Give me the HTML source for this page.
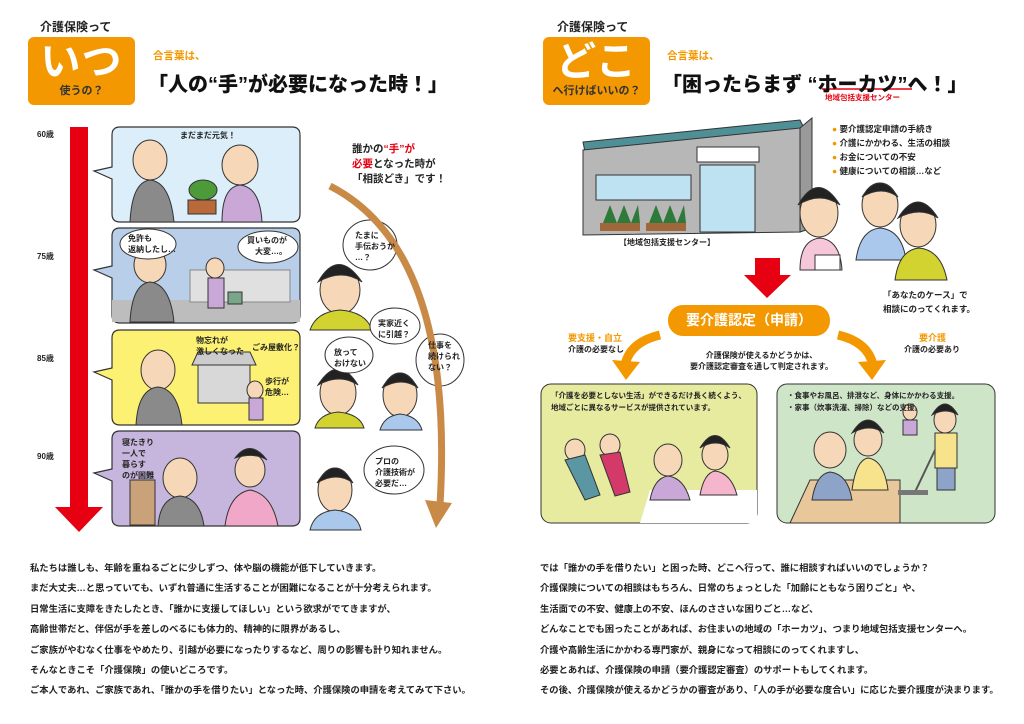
<!DOCTYPE html>
<html><head><meta charset="utf-8">
<style>
*{margin:0;padding:0;box-sizing:border-box}
body{width:1024px;height:724px;background:#fff;position:relative;overflow:hidden;font-family:"Liberation Sans","Noto Sans CJK JP",sans-serif;font-weight:bold;color:#222}
.a{position:absolute;white-space:nowrap}
.box{position:absolute;background:#f39800;border-radius:6px;color:#fff;text-align:center}
.t{font-size:9.3px;line-height:20.4px}
.s{font-size:8px;line-height:11px}
svg{position:absolute;left:0;top:0}
</style></head><body>
<svg width="1024" height="724" viewBox="0 0 1024 724">
<rect x="70" y="127" width="18" height="382" fill="#e60012"/>
<polygon points="55,507 103,507 79,532" fill="#e60012"/>
<g stroke="#333" stroke-width="1.2">
<path d="M112,135 q0,-8 8,-8 h172 q8,0 8,8 v79 q0,8 -8,8 h-172 q-8,0 -8,-8 v-35 l-18,-8 l18,-4z" fill="#dceefa"/>
<path d="M112,236 q0,-8 8,-8 h172 q8,0 8,8 v79 q0,8 -8,8 h-172 q-8,0 -8,-8 v-37 l-18,-8 l18,-4z" fill="#b9cfe9"/>
<path d="M112,338 q0,-8 8,-8 h172 q8,0 8,8 v79 q0,8 -8,8 h-172 q-8,0 -8,-8 v-37 l-18,-8 l18,-4z" fill="#fdf173"/>
<path d="M112,439 q0,-8 8,-8 h172 q8,0 8,8 v79 q0,8 -8,8 h-172 q-8,0 -8,-8 v-37 l-18,-8 l18,-4z" fill="#c6b5dc"/>
</g>
<rect x="112" y="300" width="188" height="22" fill="#bdbdbd"/>
<rect x="190" y="270" width="100" height="32" fill="#e0e0e0" stroke="#888"/>
<g stroke="#333" stroke-width="1">
<ellipse cx="150" cy="160" rx="17" ry="20" fill="#f6d7b8"/><path d="M130,222 q2,-40 20,-42 q20,2 24,42z" fill="#8a8a8a"/>
<ellipse cx="240" cy="165" rx="18" ry="20" fill="#f6d7b8"/><path d="M222,222 q0,-35 18,-37 q20,2 22,37z" fill="#c9a8d8"/>
<rect x="188" y="200" width="28" height="14" fill="#b96a3a"/><ellipse cx="203" cy="190" rx="14" ry="10" fill="#4c9a3a"/>
<ellipse cx="150" cy="265" rx="16" ry="18" fill="#f6d7b8"/><path d="M130,322 q2,-38 20,-40 q20,2 24,40z" fill="#8a8a8a"/>
<ellipse cx="215" cy="268" rx="9" ry="10" fill="#f6d7b8"/><rect x="208" y="278" width="16" height="30" fill="#c9a8d8"/><rect x="228" y="292" width="14" height="12" fill="#7aa58a"/>
<ellipse cx="158" cy="370" rx="17" ry="20" fill="#f6d7b8"/><path d="M136,425 q2,-36 22,-38 q20,2 24,38z" fill="#8a8a8a"/>
<rect x="198" y="363" width="52" height="40" fill="#d8d8d8"/><polygon points="192,365 256,365 250,352 198,352" fill="#ccc"/>
<ellipse cx="255" cy="390" rx="8" ry="9" fill="#f6d7b8"/><rect x="249" y="398" width="14" height="22" fill="#c9a8d8"/>
<rect x="130" y="480" width="25" height="45" fill="#caa27a"/>
<ellipse cx="180" cy="478" rx="17" ry="20" fill="#f6d7b8"/><path d="M158,526 q2,-28 22,-30 q20,2 24,30z" fill="#8a8a8a"/>
<ellipse cx="250" cy="470" rx="15" ry="17" fill="#f6d7b8"/><path d="M235,458 q15,-20 32,2 q-12,-8 -32,-2z" fill="#222"/><path d="M225,526 q4,-32 25,-36 q22,4 28,36z" fill="#f0a7c8"/>
<ellipse cx="340" cy="290" rx="20" ry="24" fill="#f6d7b8"/><path d="M318,282 q20,-35 44,0 q-20,-14 -44,0z" fill="#222"/><path d="M310,330 q6,-18 30,-20 q26,2 32,20z" fill="#d2d230"/>
<ellipse cx="338" cy="393" rx="18" ry="22" fill="#f6d7b8"/><path d="M318,385 q20,-32 40,0 q-18,-12 -40,0z" fill="#222"/><path d="M315,428 q4,-14 23,-16 q22,2 26,16z" fill="#d2d230"/>
<ellipse cx="400" cy="395" rx="17" ry="22" fill="#f6d7b8"/><path d="M382,388 q18,-30 36,0 q-16,-12 -36,0z" fill="#222"/><path d="M380,430 q4,-14 20,-16 q18,2 22,16z" fill="#a9c8ec"/>
<ellipse cx="335" cy="490" rx="17" ry="22" fill="#f6d7b8"/><path d="M317,483 q18,-30 36,0 q-16,-12 -36,0z" fill="#222"/><path d="M310,530 q4,-18 25,-20 q22,2 26,20z" fill="#a9c8ec"/>
</g>
<g fill="#fff" stroke="#333" stroke-width="1">
<ellipse cx="370" cy="245" rx="27" ry="25"/><ellipse cx="395" cy="326" rx="25" ry="18"/><ellipse cx="349" cy="355" rx="24" ry="18"/><ellipse cx="440" cy="360" rx="24" ry="26"/><ellipse cx="394" cy="470" rx="30" ry="24"/>
<ellipse cx="148" cy="244" rx="28" ry="15"/><ellipse cx="268" cy="247" rx="30" ry="16"/>
</g>
<path d="M330,186 Q455,250 440,505" fill="none" stroke="#c98a48" stroke-width="7"/>
<polygon points="425,500 452,503 436,528" fill="#c98a48"/>
<polygon points="583,142 800,120 805,130 585,152" fill="#4f8f96" stroke="#333"/>
<polygon points="583,150 800,128 800,232 583,235" fill="#b7b7b7" stroke="#333"/>
<polygon points="800,128 812,118 812,228 800,232" fill="#9a9a9a" stroke="#333"/>
<rect x="596" y="175" width="95" height="25" fill="#bfe2f2" stroke="#333"/>
<rect x="700" y="165" width="55" height="67" fill="#bfe2f2" stroke="#333"/>
<rect x="697" y="147" width="62" height="15" fill="#fff" stroke="#333"/>
<rect x="600" y="223" width="40" height="8" fill="#a0683a"/><polygon points="603,223 610,205 617,223 624,205 631,223 638,205 640,223" fill="#2f7a3a"/>
<rect x="646" y="223" width="40" height="8" fill="#a0683a"/><polygon points="649,223 656,205 663,223 670,205 677,223 684,205 686,223" fill="#2f7a3a"/>
<g stroke="#333" stroke-width="1">
<ellipse cx="819" cy="213" rx="19" ry="24" fill="#f6d7b8"/><path d="M798,205 q20,-35 42,0 q-20,-14 -42,0z" fill="#222"/><path d="M800,270 q0,-30 20,-32 q20,2 22,32z" fill="#f5c7d9"/>
<ellipse cx="880" cy="205" rx="18" ry="22" fill="#f6d7b8"/><path d="M862,197 q18,-28 36,0 q-16,-12 -36,0z" fill="#222"/><path d="M856,260 q4,-30 24,-32 q22,2 26,32z" fill="#a9c8ec"/>
<ellipse cx="918" cy="225" rx="18" ry="22" fill="#f6d7b8"/><path d="M898,218 q20,-32 40,0 q-18,-12 -40,0z" fill="#222"/><path d="M895,280 q4,-30 24,-32 q22,2 28,32z" fill="#d2d230"/>
<rect x="815" y="255" width="25" height="15" fill="#fff"/>
</g>
<rect x="755" y="258" width="25" height="18" fill="#e60012"/>
<polygon points="744,275 791,275 767,298" fill="#e60012"/>
<rect x="668" y="305" width="162" height="31" rx="15" fill="#f39800"/>
<path d="M660,335 Q630,342 625,365" fill="none" stroke="#f39800" stroke-width="9"/>
<polygon points="612,360 640,362 626,380" fill="#f39800"/>
<path d="M838,335 Q868,342 873,365" fill="none" stroke="#f39800" stroke-width="9"/>
<polygon points="858,362 886,360 872,380" fill="#f39800"/>
<rect x="541" y="384" width="216" height="139" rx="10" fill="#e6eb9f" stroke="#333"/>
<rect x="777" y="384" width="218" height="139" rx="10" fill="#cfe5c8" stroke="#333"/>
<polygon points="640,523 650,490 757,490 757,523" fill="#fff"/>
<polygon points="790,523 810,480 900,480 900,523" fill="#e8c79a" stroke="#333"/>
<g stroke="#333" stroke-width="1">
<ellipse cx="575" cy="450" rx="10" ry="11" fill="#f6d7b8"/><path d="M565,460 l20,-5 l15,40 l-15,5z" fill="#5b97a3"/>
<ellipse cx="610" cy="445" rx="10" ry="11" fill="#f6d7b8"/><path d="M600,455 l20,-3 l10,40 l-15,4z" fill="#d33a6a"/>
<ellipse cx="668" cy="460" rx="14" ry="16" fill="#f6d7b8"/><path d="M650,500 q4,-22 18,-24 q16,2 22,24z" fill="#c9a8d8"/>
<ellipse cx="715" cy="455" rx="13" ry="15" fill="#f6d7b8"/><path d="M700,448 q15,-25 30,0 q-14,-10 -30,0z" fill="#222"/><path d="M700,495 q4,-22 15,-24 q16,2 22,24z" fill="#f5b5cc"/>
<ellipse cx="830" cy="450" rx="16" ry="18" fill="#f6d7b8"/><path d="M812,500 q4,-26 18,-28 q18,2 22,28z" fill="#8ea3c8"/>
<ellipse cx="868" cy="440" rx="14" ry="16" fill="#f6d7b8"/><path d="M852,433 q16,-26 32,0 q-14,-10 -32,0z" fill="#222"/><path d="M852,490 q4,-30 16,-32 q16,2 20,32z" fill="#f6e38c"/>
<ellipse cx="945" cy="420" rx="11" ry="13" fill="#f6d7b8"/><path d="M932,415 q13,-22 26,0 q-12,-8 -26,0z" fill="#222"/><rect x="935" y="433" width="22" height="35" fill="#f6e38c"/><rect x="937" y="468" width="18" height="22" fill="#8ea3c8"/>
<ellipse cx="910" cy="412" rx="7" ry="8" fill="#f6d7b8"/><rect x="903" y="420" width="14" height="15" fill="#c9a8d8"/>
</g>
<line x1="935" y1="450" x2="915" y2="492" stroke="#555" stroke-width="2"/><rect x="898" y="490" width="30" height="5" fill="#777"/>
<line x1="822" y1="89" x2="912" y2="89" stroke="#e60012" stroke-width="1.5"/>
</svg>

<div class="a" style="left:40px;top:18px;font-size:12px">介護保険って</div>
<div class="box" style="left:28px;top:37px;width:107px;height:68px">
<div style="font-size:40px;line-height:44px;margin-top:3px;letter-spacing:1px">いつ</div>
<div style="font-size:11px;color:#333;line-height:14px">使うの？</div></div>
<div class="a" style="left:153px;top:48px;font-size:10.5px;color:#f39800">合言葉は、</div>
<div class="a" style="left:148px;top:68px;font-size:20px;font-weight:900;color:#111">「人の“手”が必要になった時！」</div>

<div class="a" style="left:37px;top:129px;font-size:8px">60歳</div>
<div class="a" style="left:37px;top:251px;font-size:8px">75歳</div>
<div class="a" style="left:37px;top:353px;font-size:8px">85歳</div>
<div class="a" style="left:37px;top:451px;font-size:8px">90歳</div>

<div class="a s" style="left:180px;top:130px">まだまだ元気！</div>
<div class="a s" style="left:128px;top:233px">免許も<br>返納したし…</div>
<div class="a s" style="left:247px;top:235px">買いものが<br>　大変…。</div>
<div class="a s" style="left:196px;top:335px">物忘れが<br>激しくなった</div>
<div class="a s" style="left:252px;top:342px">ごみ屋敷化？</div>
<div class="a s" style="left:265px;top:376px">歩行が<br>危険…</div>
<div class="a s" style="left:122px;top:437px">寝たきり<br>一人で<br>暮らす<br>のが困難</div>

<div class="a" style="left:352px;top:142px;font-size:10.5px;line-height:15px">誰かの<span style="color:#e60012">“手”が</span><br><span style="color:#e60012">必要</span>となった時が<br>「相談どき」です！</div>
<div class="a s" style="left:355px;top:230px">たまに<br>手伝おうか<br>…？</div>
<div class="a s" style="left:378px;top:318px">実家近く<br>に引越？</div>
<div class="a s" style="left:334px;top:347px">放って<br>おけない</div>
<div class="a s" style="left:428px;top:340px">仕事を<br>続けられ<br>ない？</div>
<div class="a s" style="left:375px;top:456px">プロの<br>介護技術が<br>必要だ…</div>

<div class="a t" style="left:30px;top:558px">私たちは誰しも、年齢を重ねるごとに少しずつ、体や脳の機能が低下していきます。<br>まだ大丈夫…と思っていても、いずれ普通に生活することが困難になることが十分考えられます。<br>日常生活に支障をきたしたとき、「誰かに支援してほしい」という欲求がでてきますが、<br>高齢世帯だと、伴侶が手を差しのべるにも体力的、精神的に限界があるし、<br>ご家族がやむなく仕事をやめたり、引越が必要になったりするなど、周りの影響も計り知れません。<br>そんなときこそ「介護保険」の使いどころです。<br>ご本人であれ、ご家族であれ、「誰かの手を借りたい」となった時、介護保険の申請を考えてみて下さい。</div>

<div class="a" style="left:557px;top:18px;font-size:12px">介護保険って</div>
<div class="box" style="left:543px;top:37px;width:107px;height:68px">
<div style="font-size:40px;line-height:44px;margin-top:3px;letter-spacing:1px">どこ</div>
<div style="font-size:11px;color:#333;line-height:14px">へ行けばいいの？</div></div>
<div class="a" style="left:667px;top:48px;font-size:10.5px;color:#f39800">合言葉は、</div>
<div class="a" style="left:662px;top:68px;font-size:20px;font-weight:900;color:#111">「困ったらまず “ホーカツ”へ！」</div>
<div class="a" style="left:825px;top:92px;font-size:7.5px;color:#e60012">地域包括支援センター</div>

<div class="a" style="left:832px;top:122px;font-size:8.5px;line-height:14px"><span style="color:#f39800">●</span> 要介護認定申請の手続き<br><span style="color:#f39800">●</span> 介護にかかわる、生活の相談<br><span style="color:#f39800">●</span> お金についての不安<br><span style="color:#f39800">●</span> 健康についての相談…など</div>
<div class="a" style="left:619px;top:237px;font-size:8px">【地域包括支援センター】</div>
<div class="a" style="left:883px;top:288px;font-size:8.5px;line-height:14px">「あなたのケース」で<br>相談にのってくれます。</div>
<div class="a" style="left:668px;top:310px;width:162px;text-align:center;font-size:14px;color:#fff">要介護認定（申請）</div>
<div class="a" style="left:568px;top:331px;font-size:9px;color:#f39800">要支援・自立</div>
<div class="a" style="left:568px;top:344px;font-size:8px">介護の必要なし</div>
<div class="a" style="left:919px;top:331px;font-size:9px;color:#f39800">要介護</div>
<div class="a" style="left:904px;top:344px;font-size:8px">介護の必要あり</div>
<div class="a" style="left:690px;top:350px;font-size:8px;line-height:11px;text-align:center">介護保険が使えるかどうかは、<br>要介護認定審査を通して判定されます。</div>
<div class="a" style="left:551px;top:390px;font-size:7.5px;line-height:12px">「介護を必要としない生活」ができるだけ長く続くよう、<br>地域ごとに異なるサービスが提供されています。</div>
<div class="a" style="left:787px;top:390px;font-size:7.5px;line-height:12px">・食事やお風呂、排泄など、身体にかかわる支援。<br>・家事（炊事洗濯、掃除）などの支援。</div>

<div class="a t" style="left:540px;top:558px">では「誰かの手を借りたい」と困った時、どこへ行って、誰に相談すればいいのでしょうか？<br>介護保険についての相談はもちろん、日常のちょっとした「加齢にともなう困りごと」や、<br>生活面での不安、健康上の不安、ほんのささいな困りごと…など、<br>どんなことでも困ったことがあれば、お住まいの地域の「ホーカツ」、つまり地域包括支援センターへ。<br>介護や高齢生活にかかわる専門家が、親身になって相談にのってくれますし、<br>必要とあれば、介護保険の申請（要介護認定審査）のサポートもしてくれます。<br>その後、介護保険が使えるかどうかの審査があり、「人の手が必要な度合い」に応じた要介護度が決まります。</div>
</body></html>
